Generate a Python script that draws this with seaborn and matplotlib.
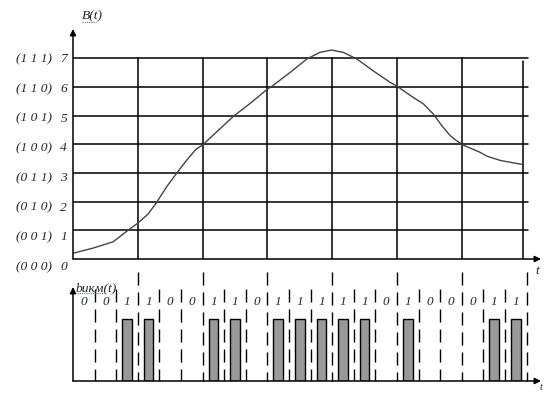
import matplotlib
matplotlib.use('Agg')
import matplotlib.pyplot as plt
import seaborn as sns
import numpy as np

# analog signal B(t)
t_vals = [0, 0.31, 0.62, 0.82, 1.0, 1.16, 1.29, 1.44, 1.59, 1.75, 1.9, 2.0, 2.25, 2.48,
          2.75, 3.0, 3.06, 3.35, 3.61, 3.81, 3.99, 4.17, 4.38, 4.63, 4.89, 5.0, 5.25,
          5.41, 5.56, 5.69, 5.82, 5.92, 6.02, 6.28, 6.39, 6.6, 6.92]
b_vals = [0.2, 0.38, 0.6, 0.95, 1.25, 1.57, 1.97, 2.5, 2.96, 3.43, 3.83, 3.97, 4.5, 4.98,
          5.45, 5.92, 6.0, 6.5, 6.97, 7.2, 7.28, 7.2, 6.97, 6.56, 6.16, 6.02, 5.63,
          5.4, 5.05, 4.65, 4.3, 4.12, 3.97, 3.72, 3.58, 3.43, 3.3]

levels = [0, 1, 2, 3, 4, 5, 6, 7]
level_codes = ['(0 0 0)', '(0 0 1)', '(0 1 0)', '(0 1 1)', '(1 0 0)', '(1 0 1)', '(1 1 0)', '(1 1 1)']

# PCM code words for samples at t = 1..7
sample_codes = ['001', '100', '110', '111', '110', '100', '011']
bits = [int(c) for code in sample_codes for c in code]

sns.set_style('white')
plt.rcParams['font.family'] = ['Liberation Serif', 'DejaVu Serif']

W, H = 547, 410
PX_X = 64.8      # pixels per time unit
PY_TOP = 28.7    # pixels per level
PY_BOT = 62.0    # pixels per bar height
x_max = (W - 73) / PX_X
t_end = 6.94

fig = plt.figure(figsize=(W / 100, H / 100), dpi=100)

# ---------------- top: analog signal ----------------
ax = fig.add_axes([73 / W, (H - 260) / H, (W - 73) / W, 242 / H])
ax.set_xlim(0, x_max)
ax.set_ylim(0, 242 / PY_TOP)
ax.set_axis_off()

for lv in levels[1:]:
    ax.plot([0, 7.02], [lv, lv], color='black', lw=1.1)
for k in range(1, 7):
    ax.plot([k, k], [0, 7], color='black', lw=1.1)
ax.plot([t_end, t_end], [0, 6.9], color='black', lw=1.1)

sns.lineplot(x=t_vals, y=b_vals, ax=ax, color='#444444', lw=1.0)

arrow = dict(arrowstyle='-|>', color='black', lw=1.1, mutation_scale=9, shrinkA=0, shrinkB=0)
ax.annotate('', xy=(0, 230 / PY_TOP), xytext=(0, 0), arrowprops=arrow)
ax.annotate('', xy=((541 - 73) / PX_X, 0), xytext=(0, 0), arrowprops=arrow)

for lv, code in zip(levels, level_codes):
    y = lv - (7 - lv) * 0.035
    ax.text(-0.09, y, str(lv), ha='right', va='center', style='italic', fontsize=9.7)
    ax.text(-0.325, y, code, ha='right', va='center', style='italic', fontsize=9.7)

ax.text((82 - 73) / PX_X, (260 - 16) / PY_TOP, 'B(t)', ha='left', va='center',
        style='italic', fontsize=9.7)
ax.plot([(82 - 73) / PX_X, (96 - 73) / PX_X], [(260 - 23) / PY_TOP] * 2,
        color='#3a9a3a', lw=0.8, ls=(0, (1, 1)), clip_on=False)
ax.text((537 - 73) / PX_X, (260 - 271) / PY_TOP, 't', ha='center', va='center',
        style='italic', fontsize=9.7, clip_on=False)

# ---------------- bottom: PCM bit stream ----------------
ax2 = fig.add_axes([73 / W, (H - 382) / H, (W - 73) / W, 100 / H])
ax2.set_xlim(0, x_max)
ax2.set_ylim(0, 100 / PY_BOT)
ax2.set_axis_off()

n_bits = len(bits)
short_x = [i / 3 for i in range(1, n_bits) if i % 3 != 0]
group_x = [i / 3 for i in range(3, n_bits + 1, 3)]
dash = (0, (9.4, 5.0))
ax2.vlines(short_x, (382 - 290) / PY_BOT, 0, colors='black', lw=1.0, linestyles=[dash])
ax2.vlines(group_x, (382 - 273) / PY_BOT, 0, colors='black', lw=1.0, linestyles=[dash],
           clip_on=False)

one_x = [(i + 0.5) / 3 for i, b in enumerate(bits) if b == 1]
ax2.bar(one_x, [1] * len(one_x), width=0.147, color='#999999', edgecolor='black', lw=1.0)

for i, b in enumerate(bits):
    ax2.text((i + 0.5) / 3, (382 - 302) / PY_BOT, str(b), ha='center', va='center',
             style='italic', fontsize=9.5)

ax2.annotate('', xy=(0, (382 - 288) / PY_BOT), xytext=(0, 0), arrowprops=arrow)
ax2.annotate('', xy=((541 - 73) / PX_X, 0), xytext=(0, 0), arrowprops=arrow)

ax2.text((76 - 73) / PX_X, (382 - 288) / PY_BOT, 'bикм(t)', ha='left', va='center',
         style='italic', fontsize=9.7, clip_on=False)
ax2.plot([(77 - 73) / PX_X, (104 - 73) / PX_X], [(382 - 294) / PY_BOT] * 2,
         color='#3a9a3a', lw=0.8, ls=(0, (1, 1)), clip_on=False)
ax2.text((541 - 73) / PX_X, (382 - 388) / PY_BOT, 't', ha='center', va='center',
         style='italic', fontsize=7.5, clip_on=False)

fig.savefig('out.png', dpi=100)
